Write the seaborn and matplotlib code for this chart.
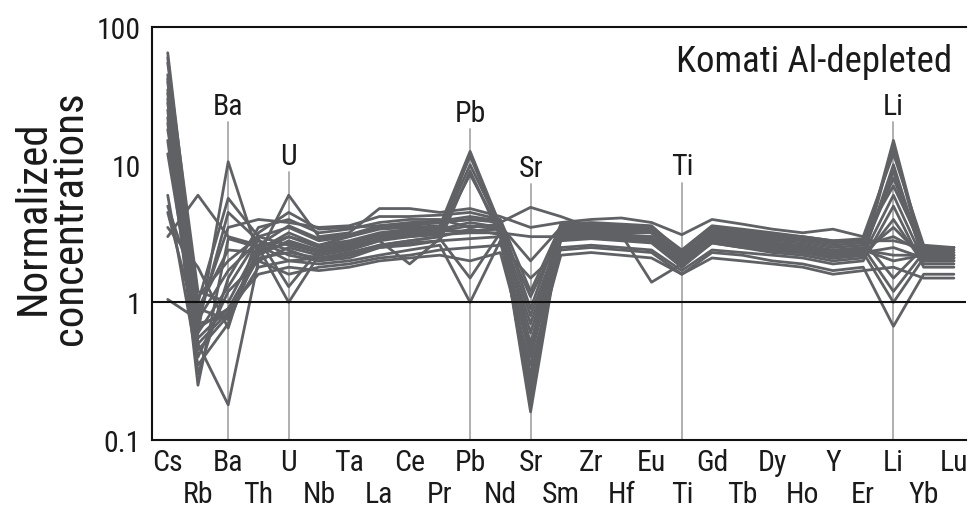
import matplotlib
matplotlib.use("Agg")
import matplotlib.pyplot as plt
import seaborn as sns
import pandas as pd

elements = ["Cs", "Rb", "Ba", "Th", "U", "Nb", "Ta", "La", "Ce", "Pr", "Pb", "Nd", "Sr", "Sm",
            "Zr", "Hf", "Eu", "Ti", "Gd", "Tb", "Dy", "Ho", "Y", "Er", "Li", "Yb", "Lu"]

s01 = [65, 0.9, 0.75, 2.5, 3.0, 2.6, 3.0, 3.4, 3.5, 3.6, 12.5, 3.6, 0.16, 3.2, 3.3, 3.2, 3.2, 2.0, 3.0, 2.8, 2.6, 2.4, 2.2, 2.3, 15, 2.2, 2.2]
s02 = [45, 0.6, 10.5, 2.2, 6.0, 3.0, 3.2, 4.8, 4.8, 4.5, 4.8, 4.2, 3.5, 3.8, 4.0, 4.1, 3.8, 3.1, 4.0, 3.7, 3.4, 3.2, 3.4, 3.0, 12, 2.6, 2.5]
s03 = [40, 0.5, 0.18, 2.0, 2.5, 2.2, 2.4, 2.8, 3.0, 3.2, 10, 3.5, 0.22, 3.0, 3.1, 3.0, 3.0, 1.8, 2.8, 2.6, 2.4, 2.3, 2.1, 2.2, 10, 2.0, 2.0]
s04 = [35, 1.0, 5.7, 3.0, 3.5, 2.8, 3.0, 3.5, 3.6, 3.8, 4.0, 3.8, 4.9, 4.2, 3.5, 3.6, 3.5, 2.4, 3.6, 3.4, 3.2, 3.0, 2.8, 2.9, 7, 2.4, 2.4]
s05 = [30, 0.45, 0.8, 1.8, 2.0, 1.9, 2.0, 2.2, 2.4, 2.6, 1.0, 2.8, 0.3, 2.5, 2.6, 2.5, 2.4, 1.7, 2.4, 2.3, 2.2, 2.1, 1.9, 2.0, 5, 1.8, 1.8]
s06 = [28, 0.7, 4.5, 2.8, 2.2, 2.0, 2.1, 2.5, 2.6, 2.8, 9.0, 3.0, 0.4, 2.8, 2.9, 2.8, 2.7, 1.8, 2.7, 2.5, 2.3, 2.2, 2.0, 2.1, 4, 1.9, 1.9]
s07 = [25, 0.3, 1.5, 3.5, 4.0, 3.2, 3.4, 3.8, 4.0, 4.0, 3.5, 3.7, 0.5, 3.4, 3.5, 3.4, 3.3, 2.2, 3.2, 3.0, 2.8, 2.7, 2.5, 2.6, 3.0, 2.3, 2.3]
s08 = [22, 0.25, 2.9, 2.5, 1.0, 2.2, 2.4, 2.8, 1.9, 2.9, 1.5, 3.2, 0.6, 3.1, 3.2, 3.0, 2.9, 2.0, 2.9, 2.7, 2.5, 2.4, 2.2, 2.3, 2.5, 2.1, 2.1]
s09 = [20, 0.55, 0.9, 2.2, 2.8, 2.4, 2.6, 3.0, 3.2, 3.3, 3.6, 3.4, 0.8, 3.2, 3.3, 3.1, 1.4, 1.9, 3.0, 2.8, 2.6, 2.5, 2.3, 2.4, 2.0, 2.2, 2.2]
s10 = [18, 0.8, 3.5, 4.0, 3.8, 3.5, 3.6, 4.2, 4.2, 4.3, 4.5, 4.0, 1.2, 3.6, 3.7, 3.6, 3.5, 2.3, 3.4, 3.2, 3.0, 2.9, 2.7, 2.8, 1.5, 2.5, 2.5]
s11 = [15, 0.4, 1.2, 2.0, 1.6, 1.8, 1.9, 2.1, 2.2, 2.4, 2.5, 2.6, 1.5, 2.4, 2.5, 2.4, 2.3, 1.6, 2.3, 2.2, 2.0, 1.9, 1.7, 1.8, 0.67, 1.6, 1.6]
s12 = [6, 0.35, 0.7, 2.4, 3.2, 2.6, 2.8, 3.2, 3.4, 3.5, 11.5, 3.6, 2.0, 3.5, 3.6, 3.4, 3.3, 2.1, 3.1, 2.9, 2.7, 2.6, 2.4, 2.5, 1.2, 2.3, 2.3]
s13 = [5, 1.1, 2.0, 3.0, 2.6, 2.3, 2.5, 2.9, 3.0, 3.1, 3.2, 3.2, 3.0, 3.0, 3.1, 3.0, 2.9, 1.9, 2.8, 2.6, 2.5, 2.4, 2.2, 2.3, 1.0, 2.1, 2.1]
s14 = [4.5, 0.65, 0.9, 1.6, 1.8, 1.7, 1.8, 2.0, 2.1, 2.2, 2.0, 2.3, 0.35, 2.2, 2.3, 2.2, 2.1, 1.6, 2.1, 2.0, 1.9, 1.8, 1.6, 1.7, 1.8, 1.5, 1.5]
s15 = [3.5, 1.8, 0.65, 3.2, 4.5, 3.4, 3.5, 3.6, 3.7, 3.8, 4.0, 3.9, 0.25, 3.5, 3.6, 3.5, 3.4, 2.1, 3.3, 3.1, 2.9, 2.8, 2.6, 2.7, 13, 2.4, 2.4]
s16 = [3.0, 6.0, 3.0, 2.6, 2.0, 2.1, 2.2, 2.5, 2.7, 2.8, 2.9, 3.0, 0.45, 2.9, 3.0, 2.9, 2.8, 1.9, 2.7, 2.5, 2.4, 2.3, 2.1, 2.2, 6, 2.0, 2.0]
s17 = [1.05, 0.75, 1.7, 2.8, 2.4, 2.0, 2.2, 2.6, 2.8, 3.0, 3.4, 3.1, 0.7, 3.0, 3.0, 2.9, 2.8, 1.9, 2.9, 2.7, 2.5, 2.4, 2.2, 2.3, 3.5, 2.1, 2.1]
s18 = [42, 0.9, 2.4, 2.3, 3.0, 2.5, 2.7, 3.1, 3.3, 3.4, 3.8, 3.5, 0.18, 3.3, 3.4, 3.3, 3.2, 2.0, 3.0, 2.8, 2.6, 2.5, 2.3, 2.4, 8, 2.2, 2.2]
s19 = [33, 0.5, 0.85, 2.1, 2.3, 2.1, 2.3, 2.6, 2.8, 3.0, 12, 3.3, 0.2, 3.1, 3.2, 3.0, 2.9, 1.8, 2.8, 2.6, 2.4, 2.3, 2.1, 2.2, 14, 2.0, 2.0]
s20 = [55, 1.2, 1.0, 2.6, 3.6, 2.9, 3.1, 3.6, 3.8, 3.9, 4.2, 3.9, 0.9, 3.7, 3.8, 3.7, 3.6, 2.3, 3.5, 3.3, 3.1, 3.0, 2.8, 2.8, 2.8, 2.5, 2.5]
s21 = [12, 0.6, 1.3, 2.9, 1.3, 2.4, 2.6, 3.0, 3.1, 3.3, 3.3, 3.4, 1.1, 3.2, 3.2, 3.1, 3.0, 2.0, 3.0, 2.8, 2.6, 2.5, 2.3, 2.4, 2.2, 2.2, 2.2]
s22 = [60, 0.7, 0.8, 2.3, 2.7, 2.3, 2.5, 2.9, 3.1, 3.2, 8.5, 3.3, 0.28, 3.1, 3.1, 3.0, 2.9, 1.9, 2.8, 2.6, 2.5, 2.4, 2.2, 2.3, 9, 2.1, 2.1]

samples = [s01, s02, s03, s04, s05, s06, s07, s08, s09, s10, s11,
           s12, s13, s14, s15, s16, s17, s18, s19, s20, s21, s22]

anomaly_elements = ["Ba", "U", "Pb", "Sr", "Ti", "Li"]
anomaly_tops = [20.3, 8.8, 18.1, 7.2, 7.4, 20.3]

title = "Komati Al-depleted"
ylabel = "Normalized\nconcentrations"
yticks = [0.1, 1, 10, 100]
ytick_labels = ["0.1", "1", "10", "100"]

rows = []
for k, vals in enumerate(samples):
    for el, v in zip(elements, vals):
        rows.append({"sample": k, "element": el, "pos": elements.index(el), "value": v})
df = pd.DataFrame(rows)

sns.set_theme(style="white")
plt.rcParams["font.family"] = ["Roboto Condensed", "Liberation Sans", "DejaVu Sans"]

LINE = "#606165"
TXT = "#1a1a1a"
fig = plt.figure(figsize=(9.68, 5.10), dpi=100)
ax = fig.add_axes([152 / 968, 69 / 510, 814 / 968, 413 / 510])
ax.set_yscale("log")

for el, top in zip(anomaly_elements, anomaly_tops):
    x = elements.index(el)
    ax.plot([x, x], [0.1, top], color="#a9a9a9", lw=1.3, zorder=1)
    ax.annotate(el, (x, top), xytext=(0, 6), textcoords="offset points",
                ha="center", va="baseline", fontsize=21.5, color=TXT)

sns.lineplot(data=df, x="pos", y="value", units="sample", estimator=None,
             color=LINE, lw=2.0, ax=ax, zorder=2, legend=False)

ax.axhline(1, color="#111111", lw=1.5, zorder=3)

ax.set_xlim(-0.52, 26.4)
ax.set_ylim(0.1, 100)
ax.set_yticks(yticks)
ax.set_yticklabels(ytick_labels)
ax.yaxis.set_minor_locator(matplotlib.ticker.NullLocator())
ax.set_xticks(range(len(elements)))
ax.set_xticklabels([e if i % 2 == 0 else "\n" + e for i, e in enumerate(elements)],
                   linespacing=1.15)
ax.set_xlabel("")
ax.set_ylabel("")

ax.tick_params(axis="x", direction="in", length=13, width=1.5, color="#111111",
               labelsize=21.5, pad=6, labelcolor=TXT)
ax.tick_params(axis="y", direction="in", length=8, width=1.5, color="#111111",
               labelsize=21.5, pad=8, labelcolor=TXT)

for side in ["left", "bottom", "top"]:
    ax.spines[side].set_color("#111111")
    ax.spines[side].set_linewidth(1.5)
ax.spines["right"].set_visible(False)

ax.text(0.983, 0.962, title, transform=ax.transAxes, ha="right", va="top",
        fontsize=26.5, color=TXT)

fig.text(52 / 968, 1 - 218 / 510, ylabel, rotation=90, ha="center", va="center",
         multialignment="center", fontsize=31, linespacing=0.9, color=TXT)

fig.savefig("out.png", dpi=100)
